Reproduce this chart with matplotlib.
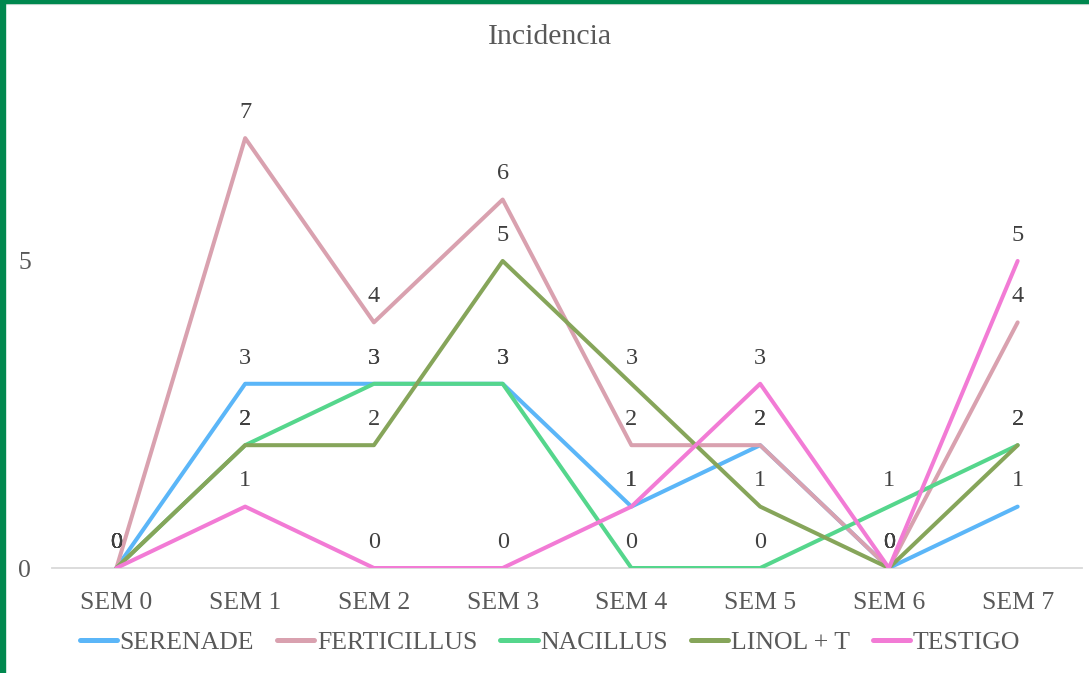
import matplotlib
matplotlib.use("Agg")
import matplotlib.pyplot as plt
from matplotlib.patches import Rectangle

weeks = ["SEM 0", "SEM 1", "SEM 2", "SEM 3", "SEM 4", "SEM 5", "SEM 6", "SEM 7"]
serenade = [0, 3, 3, 3, 1, 2, 0, 1]
ferticillus = [0, 7, 4, 6, 2, 2, 0, 4]
nacillus = [0, 2, 3, 3, 0, 0, 1, 2]
linol_t = [0, 2, 2, 5, 3, 1, 0, 2]
testigo = [0, 1, 0, 0, 1, 3, 0, 5]

series_names = ["SERENADE", "FERTICILLUS", "NACILLUS", "LINOL + T", "TESTIGO"]
series_values = [serenade, ferticillus, nacillus, linol_t, testigo]
series_colors = ["#5BB6F8", "#D9A1AF", "#55D68C", "#86A55A", "#F27BD5"]

plt.rcParams["font.family"] = ["Liberation Serif", "DejaVu Serif"]
text_gray = "#595959"
label_gray = "#404040"

fig = plt.figure(figsize=(10.89, 6.73), dpi=100)
ax = fig.add_axes([0.0478, 0.156, 0.9458, 0.73])

x = list(range(len(weeks)))
handles = []
for name, vals, col in zip(series_names, series_values, series_colors):
    h, = ax.plot(x, vals, color=col, lw=2.9, label=name,
                 solid_joinstyle="round", solid_capstyle="round")
    handles.append(h)
    for xi, v in zip(x, vals):
        ax.annotate(str(v), (xi, v), xytext=(0, 18.5), textcoords="offset points",
                    ha="center", va="center", fontsize=17.5, color=label_gray)

ax.set_xlim(-0.5, len(weeks) - 0.5)
ax.set_ylim(0, 8)
ax.set_yticks([0, 5])
ax.set_xticks(x)
ax.set_xticklabels(weeks)
ax.tick_params(axis="both", length=0, labelsize=18.5, colors=text_gray)
ax.tick_params(axis="x", pad=17)
ax.tick_params(axis="y", pad=15)
for s in ["top", "right", "left"]:
    ax.spines[s].set_visible(False)
ax.spines["bottom"].set_color("#D9D9D9")
ax.spines["bottom"].set_linewidth(1.3)
ax.spines["bottom"].set_zorder(0)

fig.text(0.505, 0.945, "Incidencia", ha="center", va="center",
         fontsize=21.5, color=text_gray)

leg = fig.legend(handles=handles, loc="center", bbox_to_anchor=(0.505, 0.045),
                 ncol=5, frameon=False, fontsize=18.5, handlelength=1.45,
                 handletextpad=0.1, columnspacing=0.9)
for t in leg.get_texts():
    t.set_color(text_gray)
for lh in leg.get_lines():
    lh.set_linewidth(3.6)
    lh.set_solid_capstyle("round")

# frame accents
fig.patches.append(Rectangle((0, 0), 5 / 1089, 1, transform=fig.transFigure,
                             color="#00884F", zorder=10))
fig.patches.append(Rectangle((0, 1 - 2.5 / 673), 1, 2.5 / 673, transform=fig.transFigure,
                             color="#00884F", zorder=10))
fig.patches.append(Rectangle((5 / 1089, 1 - 4 / 673), 1, 1.5 / 673, transform=fig.transFigure,
                             color="#E6E6E6", zorder=9))

fig.savefig("out.png", dpi=100)
